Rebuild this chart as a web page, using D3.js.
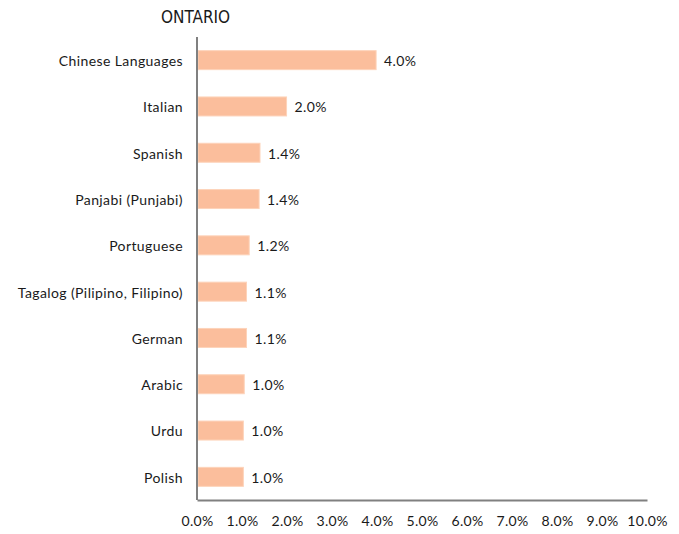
<!DOCTYPE html>
<html><head><meta charset="utf-8">
<script src="https://cdn.jsdelivr.net/npm/d3@7"></script>
<style>
body{margin:0;background:#fff;}
text{font-family:Lato,"Open Sans",sans-serif;fill:#1a1a1a;}
</style></head>
<body><div id="chart"></div>
<script>
const title = "ONTARIO";
const categories = ["Chinese Languages","Italian","Spanish","Panjabi (Punjabi)","Portuguese","Tagalog (Pilipino, Filipino)","German","Arabic","Urdu","Polish"];
const values = [3.98, 1.99, 1.40, 1.38, 1.16, 1.10, 1.10, 1.05, 1.03, 1.03];
const valueLabels = ["4.0%","2.0%","1.4%","1.4%","1.2%","1.1%","1.1%","1.0%","1.0%","1.0%"];
const xTicks = [0,1,2,3,4,5,6,7,8,9,10];

const W = 679, H = 534;
const m = {left:197, right:32, top:37, bottom:34};
const svg = d3.select("#chart").append("svg").attr("width",W).attr("height",H);

const x = d3.scaleLinear().domain([0,10]).range([m.left, W - m.right]);
const y = d3.scaleBand().domain(categories).range([m.top, H - m.bottom]).paddingInner(0.59).paddingOuter(0.295);

svg.append("text").attr("x",161).attr("y",23).attr("font-size",17)
  .style("font-family","'DejaVu Sans Condensed','DejaVu Sans',sans-serif").style("font-stretch","condensed")
  .attr("fill","#1a1a1a").text(title);

svg.selectAll("rect.bar").data(categories).enter().append("rect")
  .attr("class","bar")
  .attr("x", x(0)+1)
  .attr("y", d => y(d))
  .attr("width", (d,i) => x(values[i]) - x(0) - 1)
  .attr("height", y.bandwidth())
  .attr("fill","#FBBE9C")
  .attr("stroke","#FDD3BA").attr("stroke-width",1);

svg.selectAll("text.val").data(categories).enter().append("text")
  .attr("class","val")
  .attr("x", (d,i) => x(values[i]) + 8)
  .attr("y", d => y(d) + y.bandwidth()/2 + 1)
  .attr("dy","0.35em").attr("font-size",14).style("letter-spacing","0.4px")
  .text((d,i) => valueLabels[i]);

svg.selectAll("text.cat").data(categories).enter().append("text")
  .attr("class","cat")
  .attr("x", 183)
  .attr("y", d => y(d) + y.bandwidth()/2 + 1)
  .attr("dy","0.35em").attr("font-size",14).attr("text-anchor","end").style("letter-spacing","0.4px")
  .text(d => d);

const xAxis = d3.axisBottom(x).tickValues(xTicks).tickSize(0).tickPadding(16)
  .tickFormat(d => d.toFixed(1) + "%");
const gx = svg.append("g").attr("transform",`translate(0,${H - m.bottom})`).call(xAxis);
gx.select(".domain").attr("stroke","#808080").attr("stroke-width",2);
gx.selectAll("text").attr("font-size",14).style("letter-spacing","0.3px").style("font-family","Lato,'Open Sans',sans-serif").attr("fill","#1a1a1a");

svg.append("line").attr("x1",x(0)).attr("x2",x(0)).attr("y1",m.top).attr("y2",H - m.bottom)
  .attr("stroke","#808080").attr("stroke-width",2);
</script></body></html>
